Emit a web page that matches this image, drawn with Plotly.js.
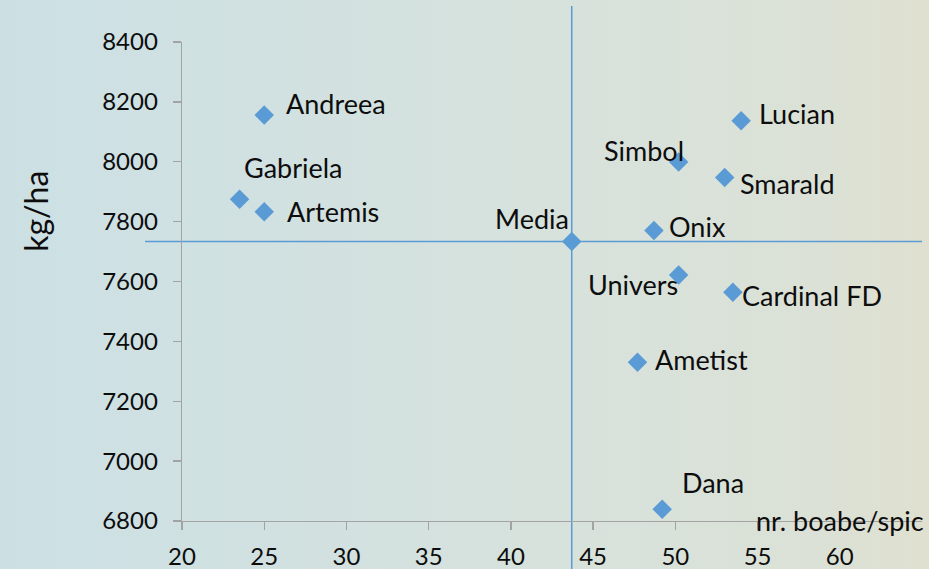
<!DOCTYPE html>
<html>
<head>
<meta charset="utf-8">
<script src="https://cdn.plot.ly/plotly-3.0.1.min.js"></script>
<style>
  html, body { margin: 0; padding: 0; }
  #chart {
    width: 929px; height: 569px;
    background: linear-gradient(to right, #cce0e4 0%, #d2e1e0 35%, #d8e2db 65%, #dbe1d6 88%, #dfe0cf 100%);
  }
</style>
</head>
<body>
<div id="chart"></div>
<script>
// ---- data ----
const varieties = ["Andreea", "Gabriela", "Artemis", "Simbol", "Lucian", "Smarald", "Onix", "Univers", "Cardinal FD", "Ametist", "Dana"];
const boabeSpic = [25.0, 23.5, 25.0, 50.2, 54.0, 53.0, 48.7, 50.2, 53.5, 47.7, 49.2];
const kgHa      = [8156, 7875, 7833, 7999, 8137, 7947, 7770, 7622, 7564, 7330, 6839];
const mediaName = ["Media"];
const mediaX    = [43.7];
const mediaY    = [7734];
const xTickVals = [20, 25, 30, 35, 40, 45, 50, 55, 60];
const yTickVals = [6800, 7000, 7200, 7400, 7600, 7800, 8000, 8200, 8400];
const xTitle = "nr. boabe/spic";
const yTitle = "kg/ha";

// ---- label placement (style only) ----
const labelStyle = {
  "Andreea":     {anchor: "left",  dx: 20, dy: 12},
  "Gabriela":    {anchor: "left",  dx: 2,  dy: 32},
  "Artemis":     {anchor: "left",  dx: 21, dy: 0},
  "Simbol":      {anchor: "right", dx: 7,  dy: 12},
  "Lucian":      {anchor: "left",  dx: 16, dy: 7},
  "Smarald":     {anchor: "left",  dx: 13, dy: -6},
  "Onix":        {anchor: "left",  dx: 13, dy: 4},
  "Univers":     {anchor: "right", dx: 1,  dy: -10},
  "Cardinal FD": {anchor: "left",  dx: 7,  dy: -3},
  "Ametist":     {anchor: "left",  dx: 15, dy: 3},
  "Dana":        {anchor: "left",  dx: 18, dy: 27},
  "Media":       {anchor: "right", dx: -1, dy: 23}
};

const FONT = "Lato, 'Open Sans', sans-serif";
const TICK_FS = 24;
const LABEL_FS = 27;
const XTITLE_FS = 27;
const YTITLE_FS = 32;
const TXT = "#0d0d0d";
const BLUE = "#5b9bd5";
const AXIS = "#a3a3a3";

const allNames = varieties.concat(mediaName);
const allX = boabeSpic.concat(mediaX);
const allY = kgHa.concat(mediaY);

const annotations = allNames.map((n, i) => {
  const s = labelStyle[n];
  return {
    x: allX[i], y: allY[i], xref: "x", yref: "y",
    text: n, showarrow: false,
    xanchor: s.anchor, yanchor: "middle",
    xshift: s.dx, yshift: s.dy,
    font: {family: FONT, size: LABEL_FS, color: TXT}
  };
});

// x-axis title sits at the right end of the axis, like the original
annotations.push({
  x: 55, y: 6800, xref: "x", yref: "y",
  text: xTitle, showarrow: false,
  xanchor: "left", yanchor: "middle", xshift: -4, yshift: 1,
  font: {family: FONT, size: XTITLE_FS, color: TXT}
});

// y-axis title, rotated, placed in the upper part of the left margin
annotations.push({
  x: -0.199, y: 0.647, xref: "paper", yref: "paper",
  text: yTitle, showarrow: false, textangle: -90,
  xanchor: "center", yanchor: "middle",
  font: {family: FONT, size: YTITLE_FS, color: TXT}
});

// media guide lines (extend beyond the plotting area like the original)
const shapes = [
  {type: "line", xref: "x", yref: "paper", x0: mediaX[0], x1: mediaX[0], y0: -0.2, y1: 1.075,
   line: {color: BLUE, width: 1.5}, layer: "below"},
  {type: "line", xref: "paper", yref: "y", x0: -0.05, x1: 1, y0: mediaY[0], y1: mediaY[0],
   line: {color: BLUE, width: 1.5}, layer: "below"}
];

const traces = [
  {
    type: "scatter", mode: "markers",
    x: boabeSpic, y: kgHa, text: varieties,
    marker: {symbol: "diamond", size: 15, color: BLUE},
    cliponaxis: false, hoverinfo: "text+x+y"
  },
  {
    type: "scatter", mode: "markers",
    x: mediaX, y: mediaY, text: mediaName,
    marker: {symbol: "diamond", size: 15, color: BLUE},
    cliponaxis: false, hoverinfo: "text+x+y"
  }
];

const layout = {
  width: 929, height: 569,
  margin: {l: 182, r: 7, t: 42, b: 48},
  paper_bgcolor: "rgba(0,0,0,0)",
  plot_bgcolor: "rgba(0,0,0,0)",
  showlegend: false,
  font: {family: FONT, size: TICK_FS, color: TXT},
  xaxis: {
    range: [20, 65], tickvals: xTickVals, ticktext: xTickVals.map(String),
    showline: true, linecolor: AXIS, linewidth: 1.3,
    ticks: "outside", ticklen: 8, tickcolor: AXIS, tickwidth: 1.3,
    ticklabelstandoff: 6,
    showgrid: false, zeroline: false,
    tickfont: {family: FONT, size: TICK_FS, color: TXT}
  },
  yaxis: {
    range: [6800, 8400], tickvals: yTickVals, ticktext: yTickVals.map(String),
    showline: true, linecolor: AXIS, linewidth: 1.3,
    ticks: "outside", ticklen: 8, tickcolor: AXIS, tickwidth: 1.3,
    ticklabelstandoff: 10,
    showgrid: false, zeroline: false,
    tickfont: {family: FONT, size: TICK_FS, color: TXT}
  },
  shapes: shapes,
  annotations: annotations
};

Plotly.newPlot("chart", traces, layout, {displayModeBar: false, staticPlot: true});
</script>
</body>
</html>
